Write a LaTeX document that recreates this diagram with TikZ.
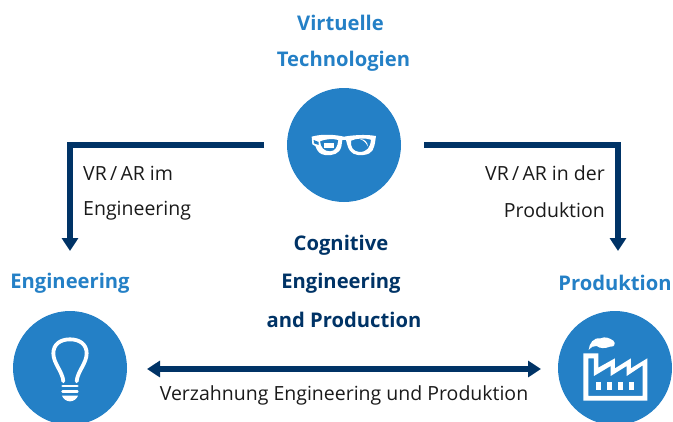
\documentclass[tikz,border=0pt]{standalone}
\usepackage{fontspec}
\setmainfont{Open Sans}
\usetikzlibrary{arrows.meta}
\definecolor{cblue}{HTML}{2480C6}
\definecolor{navy}{HTML}{003366}
\definecolor{txt}{HTML}{1A1A1A}
\tikzset{
  x=1pt,y=-1pt,
  hub/.style={circle,fill=cblue,minimum size=114pt,inner sep=0pt,draw=none},
  lab/.style={font=\fontsize{19.5}{20}\selectfont,text=txt,inner sep=0pt},
  labb/.style={font=\fontsize{20.2}{20}\selectfont\bfseries,inner sep=0pt},
  conn/.style={draw=navy,line width=5.5pt},
  ico/.style={fill=white,draw=none},
  icol/.style={draw=white,line cap=round,line join=round},
  zoomed/.style={x=0.3333pt,y=-0.3333pt}
}
\begin{document}
\begin{tikzpicture}
\useasboundingbox (0,0) rectangle (673,421);
\begin{scope}
\clip (0,0) rectangle (673,421);
\node[hub] (top) at (344,145) {};
\node[hub] (eng) at (70,368) {};
\node[hub] (pro) at (615,368) {};
\end{scope}
% connectors
\coordinate (tl) at (264,145);
\coordinate (tr) at (424,145);
\coordinate (el) at (70,251);
\coordinate (er) at (618,251);
\coordinate (dl) at (147,369);
\coordinate (dr) at (541,369);
\draw[conn,-{Triangle[width=16pt,length=13pt]}] (tl) -| (el);
\draw[conn,-{Triangle[width=16pt,length=13pt]}] (tr) -| (er);
\draw[conn,{Triangle[width=16pt,length=13pt]}-{Triangle[width=16pt,length=13pt]}] (dl) -- (dr);
% labels
\node[labb,text=cblue] (l1) at (340.5,23) {Virtuelle};
\node[labb,text=cblue] (l2) at (343.5,61) {Technologien};
\node[labb,text=navy] (l3) at (341,245) {Cognitive};
\node[labb,text=navy] (l4) at (341,283) {Engineering};
\node[labb,text=navy] (l5) at (344,320) {and Production};
\node[labb,text=cblue] (l6) at (70,283) {Engineering};
\node[labb,text=cblue] (l7) at (615,283) {Produktion};
\node[lab,anchor=west] (l8) at (83,173) {VR\,/\,AR im};
\node[lab,anchor=west] (l9) at (83,211) {Engineering};
\node[lab,anchor=east] (l10) at (605,173) {VR\,/\,AR in der};
\node[lab,anchor=east] (l11) at (605,210) {Produktion};
\node[lab] (l12) at (344,395) {Verzahnung Engineering und Produktion};
% glasses
\begin{scope}[shift={(270,90)},zoomed]
\fill[ico,even odd rule]
 (125,140) .. controls (160,130) and (200,135) .. (222,140)
 .. controls (245,136) and (285,132) .. (318,138) -- (316,152)
 .. controls (312,175) and (310,192) .. (280,195) .. controls (255,197) and (240,192) .. (232,165)
 -- (228,150) -- (217,150) -- (214,170) .. controls (208,192) and (190,197) .. (165,195)
 .. controls (150,193) and (142,185) .. (136,168) -- (127,163) -- cycle
 (243,152) .. controls (241,170) and (248,184) .. (268,186) .. controls (292,186) and (301,172) .. (303,149)
 .. controls (285,143) and (258,145) .. (243,152) -- cycle
 (150,154) .. controls (152,173) and (162,184) .. (180,184) .. controls (196,184) and (203,170) .. (205,150)
 .. controls (190,145) and (165,147) .. (150,154) -- cycle;
\fill[ico] (163,158) rectangle (192,174);
\fill[cblue] (131,150) -- (146,156) -- (146,165) -- (132,160) -- cycle;
\fill[ico] (270,147) .. controls (285,148) and (292,155) .. (294,170) .. controls (288,158) and (282,152) .. (270,147) -- cycle;
\end{scope}
% bulb
\begin{scope}[shift={(0,300)},zoomed]
\draw[icol,line width=3.8pt] (190,244) .. controls (188,215) and (160,190) .. (160,160)
 .. controls (160,132) and (182,118) .. (210,118)
 .. controls (238,118) and (260,132) .. (260,160)
 .. controls (260,190) and (232,215) .. (230,244);
\draw[icol,line width=2.8pt] (188,258) -- (232,258);
\draw[icol,line width=2.8pt] (188,274) -- (232,274);
\fill[ico] (186,287) -- (234,287) .. controls (230,298) and (220,304) .. (210,304) .. controls (200,304) and (190,298) .. (186,287) -- cycle;
\end{scope}
% factory
\begin{scope}[shift={(530,300)},zoomed]
\fill[ico,even odd rule]
 (160,160) -- (205,160) -- (205,203) -- (255,175) -- (255,205) -- (303,175) -- (303,205) -- (352,175)
 -- (352,302) -- (160,302) -- cycle
 (175,175) -- (175,288) -- (338,288) -- (338,196) -- (290,228) -- (290,198) -- (242,228) -- (242,198) -- (192,228) -- (192,175) -- cycle;
\fill[ico] (199,247) rectangle (214,270);
\fill[ico] (231,247) rectangle (246,270);
\fill[ico] (264,247) rectangle (279,270);
\fill[ico] (296,247) rectangle (311,270);
\fill[ico] (176,150) .. controls (178,130) and (190,112) .. (212,115)
 .. controls (225,108) and (240,115) .. (250,122) .. controls (258,130) and (254,142) .. (240,140)
 .. controls (225,146) and (210,146) .. (200,138) .. controls (190,136) and (184,142) .. (176,150) -- cycle;
\end{scope}
\end{tikzpicture}
\end{document}
